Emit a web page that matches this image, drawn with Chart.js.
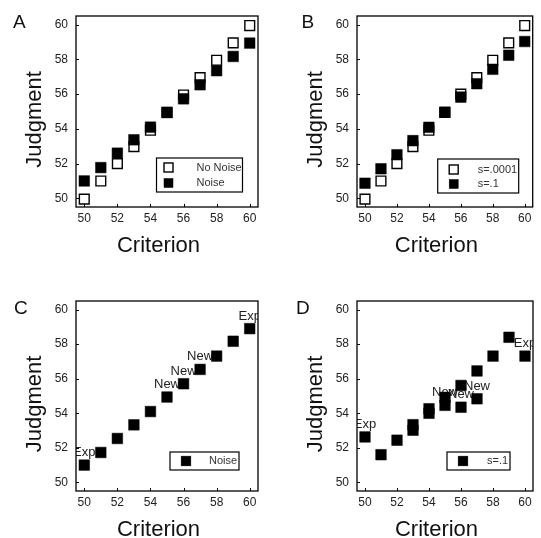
<!DOCTYPE html>
<html>
<head>
<meta charset="utf-8">
<script src="https://cdn.jsdelivr.net/npm/chart.js@4.4.1/dist/chart.umd.min.js"></script>
<style>
    html, body { margin: 0; padding: 0; background: #fff; }
    #wrap { position: relative; width: 541px; height: 538px; }
    canvas { position: absolute; }
</style>
</head>
<body>
<div id="wrap">
    <canvas id="panelA" width="270" height="269" style="left:0;top:0"></canvas>
    <canvas id="panelB" width="271" height="269" style="left:270px;top:0"></canvas>
    <canvas id="panelC" width="270" height="269" style="left:0;top:269px"></canvas>
    <canvas id="panelD" width="271" height="269" style="left:270px;top:269px"></canvas>
</div>
<script>
// DATA
const criterion = [50, 51, 52, 53, 54, 55, 56, 57, 58, 59, 60];
const tickValues = [50, 52, 54, 56, 58, 60];

// panel A
const noNoiseA = [49.95, 51.0, 52.0, 52.98, 53.92, 54.95, 55.95, 56.95, 57.95, 58.95, 59.95];
const noiseA = [51.0, 51.77, 52.6, 53.37, 54.1, 54.94, 55.73, 56.54, 57.35, 58.17, 58.94];

// panel B
const s0001B = [49.95, 51.0, 52.0, 52.98, 53.92, 54.95, 56.0, 56.95, 57.95, 58.95, 59.95];
const s1B = [50.87, 51.7, 52.51, 53.32, 54.09, 54.96, 55.83, 56.6, 57.43, 58.24, 59.03];

// panel C
const noiseC = [51.0, 51.73, 52.54, 53.33, 54.1, 54.94, 55.71, 56.54, 57.31, 58.17, 58.9];
const labelsC = ['Exp', '', '', '', '', 'New', 'New', 'New', '', '', 'Exp'];

// panel D
const criterionD = [50, 51, 52, 53, 53, 54, 54, 55, 55, 56, 56, 57, 57, 58, 59, 60];
const s1D = [52.63, 51.6, 52.44, 53.34, 53.02, 54.26, 54.0, 54.92, 54.46, 55.61, 54.35, 56.45, 54.84, 57.31, 58.4, 57.31];
const labelsD = ['Exp', '', '', '', '', '', '', '', 'New', '', 'New', '', 'New', '', '', 'Exp'];

const FONT = '"Liberation Sans", Arial, Helvetica, sans-serif';

function toPoints(xs, ys) {
    return xs.map((x, i) => ({ x: x, y: ys[i] }));
}

function openSeries(label, xs, ys) {
    return {
        label: label,
        data: toPoints(xs, ys),
        pointStyle: 'rect',
        pointRadius: 6.9,
        backgroundColor: '#ffffff',
        borderColor: '#000000',
        borderWidth: 1.4,
        order: 1
    };
}

function filledSeries(label, xs, ys, labels) {
    return {
        label: label,
        data: toPoints(xs, ys),
        pointStyle: 'rect',
        pointRadius: 7.5,
        backgroundColor: '#000000',
        borderColor: '#000000',
        borderWidth: 0.5,
        order: 0,
        pointLabels: labels || null
    };
}

// frame, inner ticks, axis titles, panel letter, point labels, legend
const panelDeco = {
    id: 'panelDeco',
    beforeDatasetsDraw(chart) {
        const ctx = chart.ctx;
        const a = chart.chartArea;
        ctx.save();
        ctx.beginPath();
        ctx.rect(a.left, a.top, a.right - a.left, a.bottom - a.top);
        ctx.clip();
        ctx.font = '13px ' + FONT;
        ctx.fillStyle = '#222';
        ctx.textAlign = 'center';
        ctx.textBaseline = 'middle';
        chart.data.datasets.forEach((ds, i) => {
            if (!ds.pointLabels) return;
            const meta = chart.getDatasetMeta(i);
            meta.data.forEach((pt, j) => {
                const t = ds.pointLabels[j];
                if (t) ctx.fillText(t, pt.x, pt.y - 12.5);
            });
        });
        ctx.restore();
    },
    afterDatasetsDraw(chart, args, o) {
        const ctx = chart.ctx;
        const a = chart.chartArea;
        const lg = o.legend;
        const bx = a.right - lg.right - lg.w;
        const by = a.bottom - lg.bottom - lg.h;
        ctx.save();
        ctx.fillStyle = '#fff';
        ctx.fillRect(bx, by, lg.w, lg.h);
        ctx.strokeStyle = '#000';
        ctx.lineWidth = 1.2;
        ctx.strokeRect(bx, by, lg.w, lg.h);
        ctx.font = '11px ' + FONT;
        ctx.textAlign = 'left';
        ctx.textBaseline = 'middle';
        lg.items.forEach((dsIndex, k) => {
            const ds = chart.data.datasets[dsIndex];
            const cy = by + lg.rows[k];
            const cx = bx + lg.markX;
            const s = lg.size;
            ctx.fillStyle = ds.backgroundColor;
            ctx.fillRect(cx - s / 2, cy - s / 2, s, s);
            ctx.strokeStyle = ds.borderColor;
            ctx.lineWidth = ds.borderWidth;
            ctx.strokeRect(cx - s / 2, cy - s / 2, s, s);
            ctx.fillStyle = '#333';
            ctx.fillText(ds.label, bx + lg.textX, cy);
        });
        ctx.restore();
    },
    afterDraw(chart, args, o) {
        const ctx = chart.ctx;
        const a = chart.chartArea;
        ctx.save();
        // frame
        ctx.strokeStyle = '#000';
        ctx.lineWidth = 1.3;
        ctx.strokeRect(a.left, a.top, a.right - a.left, a.bottom - a.top);
        // inner ticks
        ctx.lineWidth = 1;
        ctx.beginPath();
        chart.scales.x.ticks.forEach(t => {
            const px = Math.round(chart.scales.x.getPixelForValue(t.value)) + 0.5;
            ctx.moveTo(px, a.bottom);
            ctx.lineTo(px, a.bottom - 3);
        });
        chart.scales.y.ticks.forEach(t => {
            const py = Math.round(chart.scales.y.getPixelForValue(t.value)) + 0.5;
            ctx.moveTo(a.left, py);
            ctx.lineTo(a.left + 3, py);
        });
        ctx.stroke();
        // axis titles
        ctx.fillStyle = '#111';
        ctx.font = '22px ' + FONT;
        ctx.textAlign = 'center';
        ctx.textBaseline = 'alphabetic';
        ctx.fillText('Criterion', (a.left + a.right) / 2 - 8.5, a.bottom + 44.5);
        ctx.save();
        ctx.translate(a.left - 35, (a.top + a.bottom) / 2 + 8);
        ctx.rotate(-Math.PI / 2);
        ctx.fillText('Judgment', 0, 0);
        ctx.restore();
        // panel letter
        ctx.font = '19px ' + FONT;
        ctx.textAlign = 'left';
        ctx.fillText(o.letter, o.letterX, o.letterY);
        ctx.restore();
    }
};

function makePanel(canvasId, datasets, box, deco) {
    const canvas = document.getElementById(canvasId);
    const tickFont = { family: FONT, size: 12 };
    return new Chart(canvas.getContext('2d'), {
        type: 'scatter',
        data: { datasets: datasets },
        options: {
            responsive: false,
            animation: false,
            events: [],
            layout: { padding: { top: box.top, right: box.right, left: 0, bottom: 0 } },
            plugins: {
                legend: { display: false },
                tooltip: { enabled: false },
                panelDeco: deco
            },
            scales: {
                x: {
                    type: 'linear',
                    min: 49.5,
                    max: 60.5,
                    grid: { display: false, drawTicks: false },
                    border: { display: false },
                    ticks: { font: tickFont, color: '#222', padding: 4, maxRotation: 0, autoSkip: false },
                    afterBuildTicks: s => { s.ticks = tickValues.map(v => ({ value: v })); },
                    afterFit: s => { s.height = box.xHeight; }
                },
                y: {
                    type: 'linear',
                    min: 49.5,
                    max: 60.5,
                    grid: { display: false, drawTicks: false },
                    border: { display: false },
                    ticks: { font: tickFont, color: '#222', padding: 8, autoSkip: false },
                    afterBuildTicks: s => { s.ticks = tickValues.map(v => ({ value: v })); },
                    afterFit: s => { s.width = box.yWidth; }
                }
            }
        },
        plugins: [panelDeco]
    });
}

makePanel('panelA',
    [openSeries('No Noise', criterion, noNoiseA), filledSeries('Noise', criterion, noiseA)],
    { top: 16, right: 12, yWidth: 76, xHeight: 62 },
    {
        letter: 'A', letterX: 13, letterY: 27.5,
        legend: { right: 15.5, bottom: 15, w: 86, h: 34, markX: 12, textX: 40, rows: [9.5, 25], size: 9, items: [0, 1] }
    });

makePanel('panelB',
    [openSeries('s=.0001', criterion, s0001B), filledSeries('s=.1', criterion, s1B)],
    { top: 16, right: 3, yWidth: 87, xHeight: 62 },
    {
        letter: 'B', letterX: 31.5, letterY: 27.5,
        legend: { right: 14, bottom: 14, w: 81, h: 34, markX: 16, textX: 40, rows: [10.5, 25], size: 9, items: [0, 1] }
    });

makePanel('panelC',
    [filledSeries('Noise', criterion, noiseC, labelsC)],
    { top: 32, right: 12, yWidth: 76, xHeight: 47 },
    {
        letter: 'C', letterX: 14, letterY: 45,
        legend: { right: 19, bottom: 21, w: 69, h: 18, markX: 16, textX: 39, rows: [9], size: 9.7, items: [0] }
    });

makePanel('panelD',
    [filledSeries('s=.1', criterionD, s1D, labelsD)],
    { top: 32, right: 3, yWidth: 87, xHeight: 47 },
    {
        letter: 'D', letterX: 26, letterY: 45,
        legend: { right: 23, bottom: 21, w: 63, h: 18, markX: 16, textX: 40, rows: [9], size: 9.7, items: [0] }
    });
</script>
</body>
</html>
